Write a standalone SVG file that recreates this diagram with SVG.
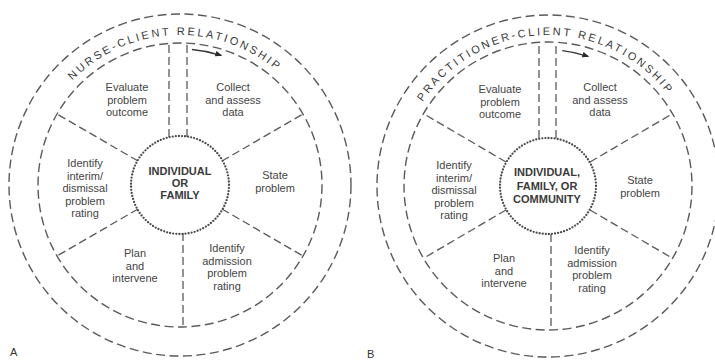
<svg xmlns="http://www.w3.org/2000/svg" width="715" height="362" viewBox="0 0 715 362">
<defs>
<style>
.ring{fill:none;stroke:#5a5a5a;stroke-width:1.4;stroke-dasharray:9 4.5}
.spoke{fill:none;stroke:#5a5a5a;stroke-width:1.3;stroke-dasharray:8 4}
.dots{fill:none;stroke:#4a4a4a;stroke-width:2.3;stroke-linecap:round;stroke-dasharray:0 3.1}
.arr{fill:none;stroke:#3a3a3a;stroke-width:1.3}
.t{font-family:"Liberation Sans",Arial,sans-serif;font-size:11px;fill:#444;text-anchor:middle}
.c{font-family:"Liberation Sans",Arial,sans-serif;font-size:11px;font-weight:bold;fill:#3a3a3a;text-anchor:middle}
.r{font-family:"Liberation Sans",Arial,sans-serif;font-size:11px;fill:#3a3a3a;letter-spacing:2.5px}
.lab{font-family:"Liberation Sans",Arial,sans-serif;font-size:11px;fill:#333}
</style>
<marker id="ah" viewBox="0 0 10 10" refX="8" refY="5" markerWidth="7" markerHeight="7" orient="auto" markerUnits="userSpaceOnUse">
<path d="M0,1 L10,5 L0,9 Z" fill="#2a2a2a"/>
</marker>
<path id="arcA" d="M 30 185 A 150 150 0 0 1 330 185"/>
<path id="arcB" d="M 397 186 A 151 151 0 0 1 699 186"/>
</defs>
<rect width="715" height="362" fill="#fff"/>

<!-- Diagram A -->
<g id="A-ring">
<circle class="ring" cx="180" cy="185" r="171"/>
<circle class="ring" cx="180" cy="185" r="142"/>
<text class="r"><textPath href="#arcA" startOffset="48.6%" text-anchor="middle">NURSE-CLIENT RELATIONSHIP</textPath></text>
</g>
<g id="A-connectors">
<line class="spoke" x1="169" y1="137" x2="169" y2="43"/>
<line class="spoke" x1="187" y1="137" x2="187" y2="43"/>
<line class="spoke" x1="222" y1="161" x2="303" y2="114"/>
<line class="spoke" x1="222" y1="209" x2="303" y2="256"/>
<line class="spoke" x1="183" y1="233" x2="183" y2="327"/>
<line class="spoke" x1="138" y1="209" x2="57" y2="256"/>
<line class="spoke" x1="138" y1="161" x2="57" y2="114"/>
<path class="arr" d="M 191.9 49.5 A 136 136 0 0 1 221 55.3" marker-end="url(#ah)"/>
</g>
<g id="A-center">
<circle class="dots" cx="180" cy="185" r="49"/>
<text class="c" x="180" y="175">INDIVIDUAL</text>
<text class="c" x="180" y="187">OR</text>
<text class="c" x="180" y="199">FAMILY</text>
</g>
<g id="A-evaluate"><text class="t" x="127" y="91">Evaluate</text><text class="t" x="127" y="103.5">problem</text><text class="t" x="127" y="116">outcome</text></g>
<g id="A-collect"><text class="t" x="233" y="91">Collect</text><text class="t" x="233" y="103.5">and assess</text><text class="t" x="233" y="116">data</text></g>
<g id="A-state"><text class="t" x="275" y="179">State</text><text class="t" x="275" y="191.5">problem</text></g>
<g id="A-admission"><text class="t" x="227" y="252">Identify</text><text class="t" x="227" y="264.5">admission</text><text class="t" x="227" y="277">problem</text><text class="t" x="227" y="289.5">rating</text></g>
<g id="A-plan"><text class="t" x="135" y="257">Plan</text><text class="t" x="135" y="269.5">and</text><text class="t" x="135" y="282">intervene</text></g>
<g id="A-interim"><text class="t" x="85" y="167">Identify</text><text class="t" x="85" y="179.5">interim/</text><text class="t" x="85" y="192">dismissal</text><text class="t" x="85" y="204.5">problem</text><text class="t" x="85" y="217">rating</text></g>
<text class="lab" x="10" y="356">A</text>

<!-- Diagram B -->
<g id="B-ring">
<circle class="ring" cx="548" cy="186" r="171"/>
<circle class="ring" cx="548" cy="186" r="144"/>
<text class="r"><textPath href="#arcB" startOffset="49.1%" text-anchor="middle">PRACTITIONER-CLIENT RELATIONSHIP</textPath></text>
</g>
<g id="B-connectors">
<line class="spoke" x1="539" y1="138" x2="539" y2="43"/>
<line class="spoke" x1="556" y1="138" x2="556" y2="43"/>
<line class="spoke" x1="590" y1="162" x2="672" y2="114"/>
<line class="spoke" x1="590" y1="210" x2="672" y2="258"/>
<line class="spoke" x1="551" y1="234" x2="551" y2="330"/>
<line class="spoke" x1="506" y1="210" x2="424" y2="258"/>
<line class="spoke" x1="506" y1="162" x2="424" y2="114"/>
<path class="arr" d="M 562.2 50.7 A 136 136 0 0 1 588 56.3" marker-end="url(#ah)"/>
</g>
<g id="B-center">
<circle class="dots" cx="548" cy="186" r="48"/>
<text class="c" x="547" y="176">INDIVIDUAL,</text>
<text class="c" x="547" y="189.5">FAMILY, OR</text>
<text class="c" x="547" y="203">COMMUNITY</text>
</g>
<g id="B-evaluate"><text class="t" x="500" y="93">Evaluate</text><text class="t" x="500" y="105.5">problem</text><text class="t" x="500" y="118">outcome</text></g>
<g id="B-collect"><text class="t" x="600" y="91">Collect</text><text class="t" x="600" y="103.5">and assess</text><text class="t" x="600" y="116">data</text></g>
<g id="B-state"><text class="t" x="640" y="184">State</text><text class="t" x="640" y="196.5">problem</text></g>
<g id="B-admission"><text class="t" x="592" y="254">Identify</text><text class="t" x="592" y="266.5">admission</text><text class="t" x="592" y="279">problem</text><text class="t" x="592" y="291.5">rating</text></g>
<g id="B-plan"><text class="t" x="504" y="262">Plan</text><text class="t" x="504" y="274.5">and</text><text class="t" x="504" y="287">intervene</text></g>
<g id="B-interim"><text class="t" x="454" y="169">Identify</text><text class="t" x="454" y="181.5">interim/</text><text class="t" x="454" y="194">dismissal</text><text class="t" x="454" y="206.5">problem</text><text class="t" x="454" y="219">rating</text></g>
<text class="lab" x="367" y="358">B</text>
</svg>
